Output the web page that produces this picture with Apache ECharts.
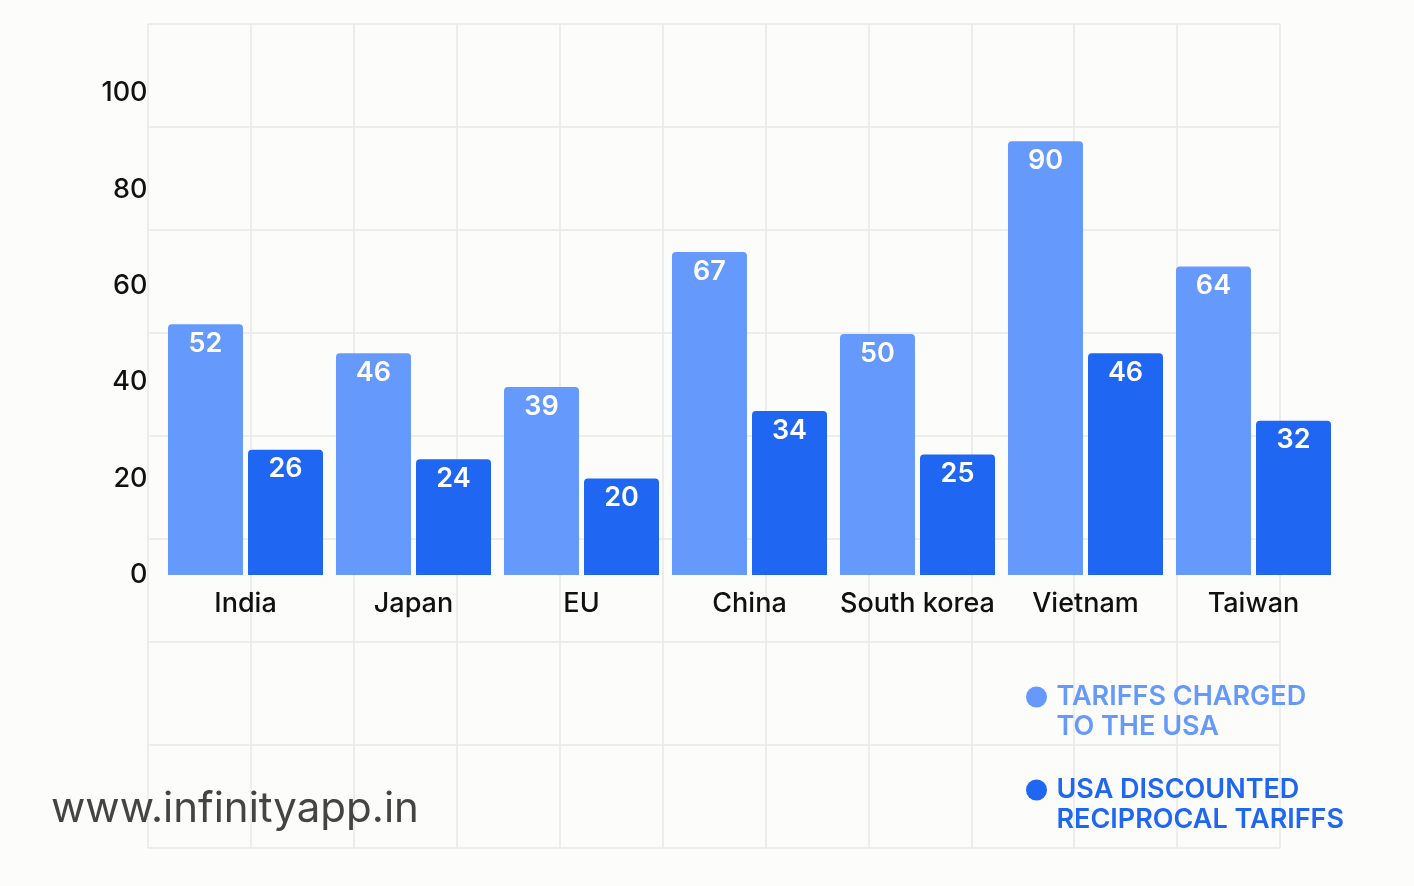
<!DOCTYPE html>
<html>
<head>
<meta charset="utf-8">
<title>Tariffs</title>
<script src="https://cdn.jsdelivr.net/npm/echarts@6/dist/echarts.min.js"></script>
<style>
  html, body { margin: 0; padding: 0; background: #fcfcfb; }
  #main { width: 1414px; height: 886px; }
</style>
</head>
<body>
<div id="main"></div>
<script>
// NOTE - Data

const countries = ['India', 'Japan', 'EU', 'China', 'South korea', 'Vietnam', 'Taiwan'];
const tariffsCharged = [52, 46, 39, 67, 50, 90, 64];
const usaDiscounted = [26, 24, 20, 34, 25, 46, 32];
const seriesNames = ['TARIFFS CHARGED\nTO THE USA', 'USA DISCOUNTED\nRECIPROCAL TARIFFS'];
const seriesColors = ['#6699fc', '#1f66f2'];

// NOTE - eCharts Init

var myChart = echarts.init(document.getElementById('main'));

var font = 'Inter, "Noto Sans", sans-serif';

var option = {
  backgroundColor: '#fcfcfb',
  animation: false,
  title: {
    text: 'www.infinityapp.in',
    left: 46,
    top: 783,
    textStyle: { fontFamily: font, fontSize: 42, fontWeight: 400, color: '#444444' }
  },
  legend: {
    orient: 'vertical',
    left: 1026,
    top: 652,
    padding: 0,
    itemGap: 3,
    itemWidth: 30,
    itemHeight: 21,
    icon: 'circle',
    // blank first line keeps the dot level with the first text line
    formatter: function (name) { return '\n' + name; },
    textStyle: {
      fontFamily: font,
      fontSize: 27,
      fontWeight: 600,
      lineHeight: 30
    },
    data: [
      { name: seriesNames[0], textStyle: { color: seriesColors[0] } },
      { name: seriesNames[1], textStyle: { color: seriesColors[1] } }
    ]
  },
  grid: [
    { left: 161.5, right: 76.5, top: 93, bottom: 311 },
    // background paper grid
    { left: 148, top: 24, width: 1132, height: 824 }
  ],
  xAxis: [
    {
      type: 'category',
      gridIndex: 0,
      data: countries,
      axisLine: { show: false },
      axisTick: { show: false },
      axisLabel: { interval: 0, margin: 15, fontFamily: font, fontSize: 27, fontWeight: 500, color: '#111111' }
    },
    {
      type: 'value',
      gridIndex: 1,
      min: 0,
      max: 11,
      interval: 1,
      axisLine: { show: false },
      axisTick: { show: false },
      axisLabel: { show: false },
      splitLine: { show: true, lineStyle: { color: '#e8e8e8', width: 1.5 } }
    }
  ],
  yAxis: [
    {
      type: 'value',
      gridIndex: 0,
      min: 0,
      max: 100,
      interval: 20,
      axisLine: { show: false },
      axisTick: { show: false },
      splitLine: { show: false },
      axisLabel: { margin: 14, fontFamily: font, fontSize: 27, fontWeight: 500, color: '#111111' }
    },
    {
      type: 'value',
      gridIndex: 1,
      min: 0,
      max: 8,
      interval: 1,
      axisLine: { show: false },
      axisTick: { show: false },
      axisLabel: { show: false },
      splitLine: { show: true, lineStyle: { color: '#e8e8e8', width: 1.5 } }
    }
  ],
  series: [
    {
      name: seriesNames[0],
      type: 'bar',
      data: tariffsCharged,
      barWidth: 75,
      barGap: '6.7%',
      itemStyle: { color: seriesColors[0], borderRadius: [4, 4, 0, 0] },
      label: {
        show: true,
        position: 'insideTop',
        distance: 6,
        color: '#ffffff',
        fontFamily: font,
        fontSize: 27,
        fontWeight: 600
      }
    },
    {
      name: seriesNames[1],
      type: 'bar',
      data: usaDiscounted,
      barWidth: 75,
      itemStyle: { color: seriesColors[1], borderRadius: [4, 4, 0, 0] },
      label: {
        show: true,
        position: 'insideTop',
        distance: 6,
        color: '#ffffff',
        fontFamily: font,
        fontSize: 27,
        fontWeight: 600
      }
    }
  ]
};

myChart.setOption(option);
</script>
</body>
</html>
